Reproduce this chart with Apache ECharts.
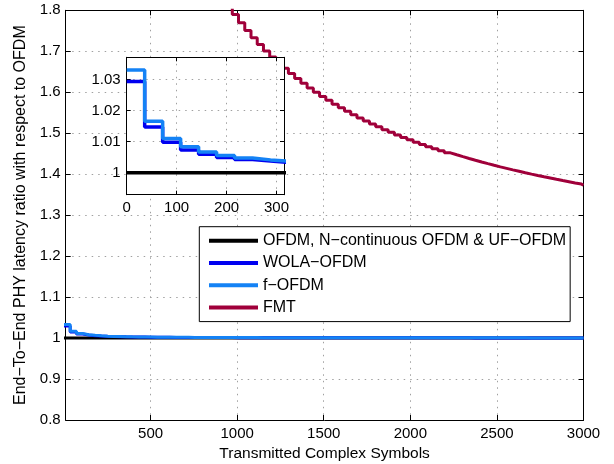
<!DOCTYPE html>
<html>
<head>
<meta charset="utf-8">
<script src="https://cdn.jsdelivr.net/npm/echarts@6/dist/echarts.min.js"></script>
<style>
  html, body { margin: 0; padding: 0; background: #fff; }
  #chart { width: 614px; height: 464px; }
</style>
</head>
<body>
<div id="chart"></div>
<script>
// Start of each transmitted block (complex symbols); every level holds until the next start.
const stepStart = [0,36,72,108,144,180,216,252,288,324,360,396,432,468,504,540,576,612,648,684,
  720,756,792,828,864,900,936,972,1008,1044,1080,1116,1152,1188,1224,1260,1296,1332,1368,1404,
  1440,1476,1512,1548,1584,1620,1656,1692,1728,1764,1800,1836,1872,1908,1944,1980,2016,2052,2088,
  2124,2160,2196,2232,2268,2304,2340,2376,2412,2448,2484,2520,2556,2592,2628,2664,2700,2736,2772,
  2808,2844,2880,2916,2952,2988];
const xEnd = 3000;

// Latency ratio levels per block
const ofdmLevel = 1;
const wolaLevels = [1.0293,1.0147,1.0098,1.0073,1.0059,1.0049,1.0042,1.0037,1.0033,1.0029,
  1.0027,1.0024,1.0023,1.0021,1.0020,1.0018,1.0017,1.0016,1.0015,1.0015,
  1.0014,1.0013,1.0013,1.0012,1.0012,1.0011,1.0011,1.0010,1.0010,1.0010,
  1.0009,1.0009,1.0009,1.0009,1.0008,1.0008,1.0008,1.0008,1.0008,1.0007,
  1.0007,1.0007,1.0007,1.0007,1.0007,1.0006,1.0006,1.0006,1.0006,1.0006,
  1.0006,1.0006,1.0006,1.0005,1.0005,1.0005,1.0005,1.0005,1.0005,1.0005,
  1.0005,1.0005,1.0005,1.0005,1.0005,1.0004,1.0004,1.0004,1.0004,1.0004,
  1.0004,1.0004,1.0004,1.0004,1.0004,1.0004,1.0004,1.0004,1.0004,1.0004,
  1.0004,1.0004,1.0004,1.0004];
const fofdmLevels = [1.0330,1.0165,1.0110,1.0083,1.0066,1.0055,1.0047,1.0041,1.0037,1.0033,
  1.0030,1.0028,1.0025,1.0024,1.0022,1.0021,1.0019,1.0018,1.0017,1.0017,
  1.0016,1.0015,1.0014,1.0014,1.0013,1.0013,1.0012,1.0012,1.0011,1.0011,
  1.0011,1.0010,1.0010,1.0010,1.0009,1.0009,1.0009,1.0009,1.0008,1.0008,
  1.0008,1.0008,1.0008,1.0008,1.0007,1.0007,1.0007,1.0007,1.0007,1.0007,
  1.0006,1.0006,1.0006,1.0006,1.0006,1.0006,1.0006,1.0006,1.0006,1.0006,
  1.0005,1.0005,1.0005,1.0005,1.0005,1.0005,1.0005,1.0005,1.0005,1.0005,
  1.0005,1.0005,1.0005,1.0005,1.0004,1.0004,1.0004,1.0004,1.0004,1.0004,
  1.0004,1.0004,1.0004,1.0004];
// FMT stays above 1.8 for the first blocks (off scale)
const fmtLevels = [null,null,null,null,null,null,null,null,null,null,
  null,null,null,null,null,null,null,null,null,null,
  null,null,null,null,1.8577,1.8335,1.8108,1.7896,1.7697,1.7509,
  1.7333,1.7166,1.7008,1.6859,1.6717,1.6583,1.6455,1.6333,1.6217,1.6106,
  1.6000,1.5899,1.5802,1.5709,1.5620,1.5535,1.5453,1.5374,1.5298,1.5225,
  1.5155,1.5087,1.5021,1.4958,1.4897,1.4838,1.4781,1.4725,1.4672,1.4620,
  1.4570,1.4521,1.4474,1.4428,1.4384,1.4341,1.4299,1.4258,1.4218,1.4179,
  1.4142,1.4105,1.4070,1.4035,1.4001,1.3968,1.3936,1.3905,1.3874,1.3844,
  1.3815,1.3786,1.3758,1.3731];

const seriesNames = ['OFDM, N\u2212continuous OFDM & UF\u2212OFDM', 'WOLA\u2212OFDM', 'f\u2212OFDM', 'FMT'];
const seriesColors = ['#000000', '#0000f0', '#1482f5', '#a0003a'];

const mainXTicks = [500, 1000, 1500, 2000, 2500, 3000];
const insetYTicks = [1, 1.01, 1.02, 1.03];

function stepPoints(levels) {
  const pts = stepStart.map((x, i) => [x, levels[i]]);
  pts.push([xEnd, levels[levels.length - 1]]);
  return pts;
}
const ofdmPoints = [[0, ofdmLevel], [xEnd, ofdmLevel]];
const curveData = [ofdmPoints, stepPoints(wolaLevels), stepPoints(fofdmLevels), stepPoints(fmtLevels)];

const FONT = "'Liberation Sans', Arial, Helvetica, sans-serif";
const gridLine = { show: true, lineStyle: { color: '#a0a0a0', width: 1, type: [1.5, 5] } };
const axisLine = { show: true, onZero: false, lineStyle: { color: '#000', width: 1 } };
const plainNumber = v => String(v);

const chart = echarts.init(document.getElementById('chart'), null, { renderer: 'canvas' });

const series = [];
curveData.forEach((d, i) => {
  // main plot
  series.push({
    name: seriesNames[i], type: 'line', xAxisIndex: 0, yAxisIndex: 0,
    data: d, step: i === 0 ? false : 'end', showSymbol: false, symbol: 'none',
    lineStyle: { color: seriesColors[i], width: 3 }, itemStyle: { color: seriesColors[i] },
    clip: true, z: 2, silent: true
  });
});
curveData.slice(0, 3).forEach((d, i) => {
  // zoomed inset
  series.push({
    name: seriesNames[i], type: 'line', xAxisIndex: 2, yAxisIndex: 2,
    data: d, step: i === 0 ? false : 'end', showSymbol: false, symbol: 'none',
    lineStyle: { color: seriesColors[i], width: 3.5 }, itemStyle: { color: seriesColors[i] },
    clip: true, z: 6, silent: true
  });
});

chart.setOption({
  animation: false,
  backgroundColor: '#fff',
  textStyle: { fontFamily: FONT },
  grid: [
    { left: 65.7, top: 10.3, width: 517.8, height: 409.7, outerBoundsMode: 'none', containLabel: false },
    { left: 126.7, top: 57.3, width: 157.3, height: 137.4, outerBoundsMode: 'none', containLabel: false,
      show: true, backgroundColor: '#fff', borderWidth: 0, z: 4 }
  ],
  xAxis: [
    { type: 'value', gridIndex: 0, min: 10, max: 3000, position: 'bottom',
      axisLine: axisLine,
      axisTick: { show: true, inside: true, length: 5, customValues: mainXTicks, lineStyle: { color: '#000' } },
      axisLabel: { customValues: mainXTicks, formatter: plainNumber, color: '#000', fontSize: 15, margin: 6, fontFamily: FONT },
      splitLine: gridLine,
      name: 'Transmitted Complex Symbols', nameLocation: 'middle', nameGap: 25,
      nameTextStyle: { color: '#000', fontSize: 15.5, fontFamily: FONT } },
    { type: 'value', gridIndex: 0, min: 10, max: 3000, position: 'top',
      axisLine: axisLine,
      axisTick: { show: true, inside: true, length: 5, customValues: mainXTicks, lineStyle: { color: '#000' } },
      axisLabel: { show: false }, splitLine: { show: false } },
    { type: 'value', gridIndex: 1, min: 0, max: 315, interval: 100, position: 'bottom', z: 5,
      axisLine: axisLine,
      axisTick: { show: true, inside: true, length: 4, lineStyle: { color: '#000' } },
      axisLabel: { formatter: plainNumber, color: '#000', fontSize: 15, margin: 6, fontFamily: FONT },
      splitLine: gridLine },
    { type: 'value', gridIndex: 1, min: 0, max: 315, interval: 100, position: 'top', z: 5,
      axisLine: axisLine,
      axisTick: { show: true, inside: true, length: 4, lineStyle: { color: '#000' } },
      axisLabel: { show: false }, splitLine: { show: false } }
  ],
  yAxis: [
    { type: 'value', gridIndex: 0, min: 0.8, max: 1.8, interval: 0.1, position: 'left',
      axisLine: axisLine,
      axisTick: { show: true, inside: true, length: 5, lineStyle: { color: '#000' } },
      axisLabel: { color: '#000', fontSize: 15, margin: 5, fontFamily: FONT },
      splitLine: gridLine,
      name: 'End\u2212To\u2212End PHY latency ratio with respect to OFDM', nameLocation: 'middle', nameGap: 36,
      nameTextStyle: { color: '#000', fontSize: 16, fontFamily: FONT } },
    { type: 'value', gridIndex: 0, min: 0.8, max: 1.8, interval: 0.1, position: 'right',
      axisLine: axisLine,
      axisTick: { show: true, inside: true, length: 5, lineStyle: { color: '#000' } },
      axisLabel: { show: false }, splitLine: { show: false } },
    { type: 'value', gridIndex: 1, min: 0.9929, max: 1.0371, position: 'left', z: 5,
      axisLine: axisLine,
      axisTick: { show: true, inside: true, length: 4, customValues: insetYTicks, lineStyle: { color: '#000' } },
      axisLabel: { customValues: insetYTicks, color: '#000', fontSize: 15, margin: 6, fontFamily: FONT },
      splitLine: gridLine },
    { type: 'value', gridIndex: 1, min: 0.9929, max: 1.0371, position: 'right', z: 5,
      axisLine: axisLine,
      axisTick: { show: true, inside: true, length: 4, customValues: insetYTicks, lineStyle: { color: '#000' } },
      axisLabel: { show: false }, splitLine: { show: false } }
  ],
  legend: {
    show: true, orient: 'vertical', left: 199.3, top: 226.7,
    data: seriesNames.map((n, i) => ({ name: n, icon: 'rect', itemStyle: { color: seriesColors[i] } })),
    itemWidth: 49, itemHeight: 4, itemGap: 6.3,
    padding: [6, 4, 6, 9.7],
    backgroundColor: '#fff', borderColor: '#000', borderWidth: 1, borderRadius: 0,
    selectedMode: false, z: 8,
    textStyle: { color: '#000', fontSize: 16, fontFamily: FONT, lineHeight: 16 }
  },
  series: series
});
</script>
</body>
</html>
